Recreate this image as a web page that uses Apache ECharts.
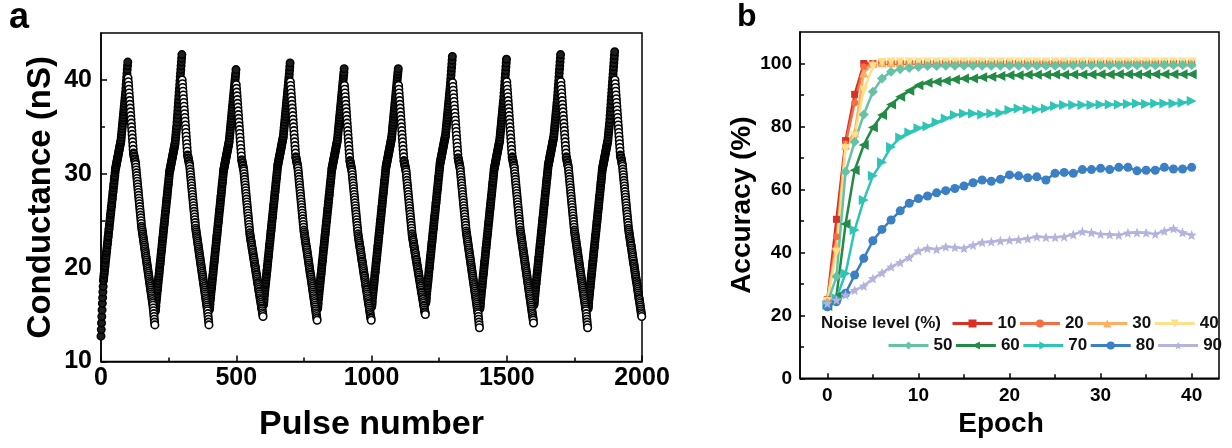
<!DOCTYPE html>
<html>
<head>
<meta charset="utf-8">
<script src="https://cdn.jsdelivr.net/npm/echarts@6.0.0/dist/echarts.min.js"></script>
<style>
html,body{margin:0;padding:0;background:#fff;}
#chart{width:1232px;height:448px;}
</style>
</head>
<body>
<div id="chart"></div>
<script>
// ---------- Panel a: conductance (nS) per pulse, one array per potentiation/depression cycle ----------
const cycle01 = [12.7,13.4,14.1,14.8,15.5,16.2,16.8,17.4,18.0,18.6,18.9,19.2,19.4,19.7,20.0,20.2,20.5,20.8,21.0,21.3,21.6,21.8,22.1,22.4,22.6,22.9,23.2,23.4,23.7,24.0,24.2,24.5,24.8,25.0,25.3,25.6,25.8,26.1,26.4,26.6,26.9,27.2,27.4,27.7,28.0,28.2,28.5,28.8,29.0,29.3,29.6,29.8,30.1,30.4,30.6,30.7,30.9,31.0,31.2,31.3,31.5,31.6,31.8,31.9,32.1,32.2,32.4,32.5,32.7,32.8,33.0,33.1,33.3,33.4,33.6,33.9,34.2,34.5,34.8,35.1,35.4,35.7,36.0,36.3,36.6,36.9,37.2,37.5,37.8,38.1,38.4,38.7,39.1,39.5,39.9,40.3,40.7,41.1,41.5,41.9,
40.2,39.8,39.4,39.0,38.6,38.2,37.8,37.4,37.0,36.6,36.2,35.8,35.4,35.0,34.6,34.2,33.8,33.4,33.0,32.6,32.2,32.1,31.9,31.8,31.6,31.5,31.3,31.2,31.0,30.7,30.4,30.1,29.8,29.5,29.2,28.9,28.6,28.3,28.0,27.7,27.4,27.1,26.8,26.5,26.2,25.9,25.6,25.3,25.0,24.7,24.4,24.2,24.0,23.8,23.6,23.4,23.2,23.0,22.8,22.6,22.4,22.2,22.0,21.8,21.6,21.4,21.2,21.0,20.8,20.6,20.4,20.2,20.0,19.8,19.6,19.4,19.2,19.0,18.8,18.6,18.4,18.2,18.0,17.8,17.6,17.4,17.2,17.0,16.8,16.6,16.4,16.2,16.0,15.7,15.4,15.1,14.8,14.5,14.2,13.9];
const cycle02 = [15.3,15.4,15.6,15.9,16.3,16.6,16.9,17.2,17.5,17.7,18.0,18.3,18.6,18.9,19.1,19.4,19.7,20.0,20.3,20.5,20.8,21.1,21.4,21.7,21.9,22.2,22.5,22.8,23.1,23.3,23.6,23.9,24.2,24.5,24.7,25.0,25.3,25.6,25.9,26.1,26.4,26.7,27.0,27.3,27.5,27.8,28.1,28.4,28.7,28.9,29.2,29.5,29.8,30.1,30.3,30.4,30.6,30.7,30.9,31.0,31.2,31.3,31.5,31.6,31.8,31.9,32.1,32.2,32.4,32.5,32.7,32.8,33.0,33.1,33.3,33.6,33.9,34.2,34.5,34.8,35.1,35.5,35.9,36.3,36.7,37.1,37.5,37.9,38.3,38.7,39.1,39.5,39.9,40.3,40.7,41.1,41.5,41.9,42.3,42.7,
40.0,39.6,39.2,38.8,38.4,38.0,37.6,37.2,36.8,36.4,36.0,35.6,35.2,34.8,34.4,34.0,33.6,33.2,32.8,32.4,32.0,31.9,31.7,31.6,31.4,31.3,31.1,31.0,30.8,30.5,30.2,29.9,29.6,29.3,29.0,28.7,28.4,28.1,27.8,27.5,27.2,26.9,26.6,26.3,26.0,25.7,25.4,25.1,24.8,24.5,24.2,24.0,23.8,23.6,23.4,23.2,23.0,22.8,22.6,22.4,22.2,22.0,21.8,21.6,21.4,21.2,21.0,20.8,20.6,20.4,20.2,20.0,19.8,19.6,19.4,19.2,19.0,18.8,18.6,18.4,18.2,18.0,17.8,17.6,17.4,17.2,17.0,16.8,16.6,16.4,16.2,16.0,15.8,15.6,15.4,15.1,14.8,14.5,14.2,13.9];
const cycle03 = [15.5,15.6,15.8,16.1,16.5,16.8,17.1,17.4,17.7,17.9,18.2,18.5,18.8,19.1,19.3,19.6,19.9,20.2,20.5,20.7,21.0,21.3,21.6,21.9,22.1,22.4,22.7,23.0,23.3,23.5,23.8,24.1,24.4,24.7,24.9,25.2,25.5,25.8,26.1,26.3,26.6,26.9,27.2,27.5,27.7,28.0,28.3,28.6,28.9,29.1,29.4,29.7,30.0,30.3,30.5,30.6,30.8,30.9,31.1,31.2,31.4,31.5,31.7,31.8,32.0,32.1,32.3,32.4,32.6,32.7,32.9,33.0,33.2,33.3,33.5,33.8,34.1,34.4,34.7,35.0,35.3,35.6,35.9,36.2,36.5,36.8,37.1,37.4,37.7,38.0,38.3,38.6,38.9,39.2,39.5,39.8,40.1,40.4,40.7,41.1,
39.5,39.1,38.7,38.3,37.9,37.5,37.1,36.7,36.3,35.9,35.5,35.1,34.7,34.3,33.9,33.5,33.1,32.7,32.3,31.9,31.5,31.4,31.2,31.1,30.9,30.8,30.6,30.5,30.3,30.0,29.7,29.4,29.1,28.8,28.5,28.2,27.9,27.6,27.3,27.0,26.7,26.4,26.1,25.8,25.5,25.2,24.9,24.6,24.3,24.0,23.7,23.5,23.3,23.1,22.9,22.8,22.6,22.4,22.2,22.0,21.9,21.7,21.5,21.3,21.1,21.0,20.8,20.6,20.4,20.2,20.1,19.9,19.7,19.5,19.3,19.2,19.0,18.8,18.6,18.4,18.3,18.1,17.9,17.7,17.5,17.4,17.2,17.0,16.8,16.6,16.5,16.3,16.1,15.9,15.7,15.6,15.4,15.2,15.0,14.8];
const cycle04 = [16.0,16.1,16.3,16.6,17.0,17.3,17.6,17.9,18.2,18.4,18.7,19.0,19.3,19.6,19.8,20.1,20.4,20.7,21.0,21.2,21.5,21.8,22.1,22.4,22.6,22.9,23.2,23.5,23.8,24.0,24.3,24.6,24.9,25.2,25.4,25.7,26.0,26.3,26.6,26.8,27.1,27.4,27.7,28.0,28.2,28.5,28.8,29.1,29.4,29.6,29.9,30.2,30.5,30.8,31.0,31.1,31.3,31.4,31.6,31.7,31.9,32.0,32.2,32.3,32.5,32.6,32.8,32.9,33.1,33.2,33.4,33.5,33.7,33.8,34.0,34.3,34.6,34.9,35.2,35.5,35.8,36.1,36.4,36.7,37.0,37.3,37.6,37.9,38.2,38.5,38.8,39.1,39.4,39.7,40.0,40.3,40.6,41.0,41.4,41.8,
39.8,39.4,39.0,38.6,38.2,37.8,37.4,37.0,36.6,36.2,35.8,35.4,35.0,34.6,34.2,33.8,33.4,33.0,32.6,32.2,31.8,31.7,31.5,31.4,31.2,31.1,30.9,30.8,30.6,30.3,30.0,29.7,29.4,29.1,28.8,28.5,28.2,27.9,27.6,27.3,27.0,26.7,26.4,26.1,25.8,25.5,25.2,24.9,24.6,24.3,24.0,23.8,23.6,23.4,23.2,23.0,22.8,22.6,22.4,22.2,22.1,21.9,21.7,21.5,21.3,21.1,20.9,20.7,20.5,20.3,20.1,19.9,19.7,19.5,19.3,19.2,19.0,18.8,18.6,18.4,18.2,18.0,17.8,17.6,17.4,17.2,17.0,16.8,16.6,16.4,16.2,16.0,15.8,15.6,15.4,15.2,15.0,14.8,14.6,14.4];
const cycle05 = [15.6,15.7,15.9,16.2,16.6,16.9,17.2,17.5,17.8,18.0,18.3,18.6,18.9,19.2,19.4,19.7,20.0,20.3,20.6,20.8,21.1,21.4,21.7,22.0,22.2,22.5,22.8,23.1,23.4,23.6,23.9,24.2,24.5,24.8,25.0,25.3,25.6,25.9,26.2,26.4,26.7,27.0,27.3,27.6,27.8,28.1,28.4,28.7,29.0,29.2,29.5,29.8,30.1,30.4,30.6,30.7,30.9,31.0,31.2,31.3,31.5,31.6,31.8,31.9,32.1,32.2,32.4,32.5,32.7,32.8,33.0,33.1,33.3,33.4,33.6,33.9,34.2,34.5,34.8,35.1,35.4,35.7,36.0,36.3,36.6,36.9,37.2,37.5,37.8,38.1,38.4,38.7,39.0,39.3,39.6,39.9,40.2,40.5,40.8,41.2,
39.4,39.0,38.6,38.2,37.8,37.4,37.0,36.6,36.2,35.8,35.4,35.0,34.6,34.2,33.8,33.4,33.0,32.6,32.2,31.8,31.4,31.3,31.1,31.0,30.8,30.7,30.5,30.4,30.2,29.9,29.6,29.3,29.0,28.7,28.4,28.1,27.8,27.5,27.2,26.9,26.6,26.3,26.0,25.7,25.4,25.1,24.8,24.5,24.2,23.9,23.6,23.4,23.2,23.0,22.8,22.6,22.4,22.2,22.1,21.9,21.7,21.5,21.3,21.1,20.9,20.7,20.6,20.4,20.2,20.0,19.8,19.6,19.4,19.2,19.1,18.9,18.7,18.5,18.3,18.1,17.9,17.7,17.6,17.4,17.2,17.0,16.8,16.6,16.4,16.2,16.1,15.9,15.7,15.5,15.3,15.1,14.9,14.7,14.6,14.4];
const cycle06 = [15.8,15.9,16.1,16.4,16.8,17.1,17.4,17.7,18.0,18.2,18.5,18.8,19.1,19.4,19.6,19.9,20.2,20.5,20.8,21.0,21.3,21.6,21.9,22.2,22.4,22.7,23.0,23.3,23.6,23.8,24.1,24.4,24.7,25.0,25.2,25.5,25.8,26.1,26.4,26.6,26.9,27.2,27.5,27.8,28.0,28.3,28.6,28.9,29.2,29.4,29.7,30.0,30.3,30.6,30.8,30.9,31.1,31.2,31.4,31.5,31.7,31.8,32.0,32.1,32.3,32.4,32.6,32.7,32.9,33.0,33.2,33.3,33.5,33.6,33.8,34.0,34.3,34.6,34.9,35.2,35.5,35.8,36.1,36.4,36.7,37.0,37.3,37.6,37.9,38.2,38.5,38.8,39.1,39.4,39.7,40.0,40.3,40.6,40.9,41.2,
39.4,39.0,38.6,38.2,37.8,37.4,37.0,36.6,36.2,35.8,35.4,35.0,34.6,34.2,33.8,33.4,33.0,32.6,32.2,31.8,31.4,31.3,31.1,31.0,30.8,30.7,30.5,30.4,30.2,29.9,29.6,29.3,29.0,28.7,28.4,28.1,27.8,27.5,27.2,26.9,26.6,26.3,26.0,25.7,25.4,25.1,24.8,24.5,24.2,23.9,23.6,23.4,23.2,23.0,22.9,22.7,22.5,22.3,22.2,22.0,21.8,21.6,21.5,21.3,21.1,20.9,20.8,20.6,20.4,20.2,20.1,19.9,19.7,19.5,19.4,19.2,19.0,18.8,18.7,18.5,18.3,18.1,18.0,17.8,17.6,17.4,17.3,17.1,16.9,16.7,16.6,16.4,16.2,16.0,15.9,15.7,15.5,15.3,15.2,15.0];
const cycle07 = [16.2,16.3,16.5,16.8,17.2,17.5,17.8,18.1,18.4,18.6,18.9,19.2,19.5,19.8,20.0,20.3,20.6,20.9,21.2,21.4,21.7,22.0,22.3,22.6,22.8,23.1,23.4,23.7,24.0,24.2,24.5,24.8,25.1,25.4,25.6,25.9,26.2,26.5,26.8,27.0,27.3,27.6,27.9,28.2,28.4,28.7,29.0,29.3,29.6,29.8,30.1,30.4,30.7,31.0,31.2,31.3,31.5,31.6,31.8,31.9,32.1,32.2,32.4,32.5,32.7,32.8,33.0,33.1,33.3,33.4,33.6,33.7,33.9,34.0,34.2,34.5,34.8,35.1,35.4,35.7,36.0,36.3,36.6,36.9,37.2,37.5,37.8,38.1,38.4,38.7,39.0,39.3,39.7,40.1,40.5,40.9,41.3,41.7,42.1,42.5,
39.7,39.3,38.9,38.5,38.1,37.7,37.3,36.9,36.5,36.1,35.7,35.3,34.9,34.5,34.1,33.7,33.3,32.9,32.5,32.1,31.7,31.6,31.4,31.3,31.1,31.0,30.8,30.7,30.5,30.2,29.9,29.6,29.3,29.0,28.7,28.4,28.1,27.8,27.5,27.2,26.9,26.6,26.3,26.0,25.7,25.4,25.1,24.8,24.5,24.2,23.9,23.7,23.5,23.3,23.1,22.9,22.7,22.5,22.3,22.1,21.9,21.7,21.5,21.3,21.1,20.9,20.7,20.5,20.3,20.1,19.9,19.7,19.5,19.3,19.1,18.9,18.7,18.5,18.3,18.1,17.9,17.7,17.5,17.3,17.1,16.9,16.7,16.5,16.3,16.1,15.9,15.7,15.5,15.3,15.1,14.8,14.5,14.2,13.9,13.6];
const cycle08 = [15.6,15.7,15.9,16.2,16.6,16.9,17.2,17.5,17.8,18.0,18.3,18.6,18.9,19.2,19.4,19.7,20.0,20.3,20.6,20.8,21.1,21.4,21.7,22.0,22.2,22.5,22.8,23.1,23.4,23.6,23.9,24.2,24.5,24.8,25.0,25.3,25.6,25.9,26.2,26.4,26.7,27.0,27.3,27.6,27.8,28.1,28.4,28.7,29.0,29.2,29.5,29.8,30.1,30.4,30.6,30.7,30.9,31.0,31.2,31.3,31.5,31.6,31.8,31.9,32.1,32.2,32.4,32.5,32.7,32.8,33.0,33.1,33.3,33.4,33.6,33.9,34.2,34.5,34.8,35.1,35.4,35.7,36.0,36.3,36.6,36.9,37.2,37.5,37.8,38.2,38.6,39.0,39.4,39.8,40.2,40.6,41.0,41.4,41.8,42.2,
39.8,39.4,39.0,38.6,38.2,37.8,37.4,37.0,36.6,36.2,35.8,35.4,35.0,34.6,34.2,33.8,33.4,33.0,32.6,32.2,31.8,31.7,31.5,31.4,31.2,31.1,30.9,30.8,30.6,30.3,30.0,29.7,29.4,29.1,28.8,28.5,28.2,27.9,27.6,27.3,27.0,26.7,26.4,26.1,25.8,25.5,25.2,24.9,24.6,24.3,24.0,23.8,23.6,23.4,23.2,23.0,22.8,22.6,22.4,22.2,22.0,21.8,21.6,21.4,21.2,21.0,20.8,20.6,20.4,20.2,20.0,19.8,19.6,19.4,19.2,19.0,18.8,18.6,18.4,18.2,18.0,17.8,17.6,17.4,17.2,17.0,16.8,16.6,16.4,16.2,16.0,15.8,15.6,15.4,15.2,15.0,14.8,14.6,14.4,14.1];
const cycle09 = [16.0,16.1,16.3,16.6,17.0,17.3,17.6,17.9,18.2,18.4,18.7,19.0,19.3,19.6,19.8,20.1,20.4,20.7,21.0,21.2,21.5,21.8,22.1,22.4,22.6,22.9,23.2,23.5,23.8,24.0,24.3,24.6,24.9,25.2,25.4,25.7,26.0,26.3,26.6,26.8,27.1,27.4,27.7,28.0,28.2,28.5,28.8,29.1,29.4,29.6,29.9,30.2,30.5,30.8,31.0,31.1,31.3,31.4,31.6,31.7,31.9,32.0,32.2,32.3,32.5,32.6,32.8,32.9,33.1,33.2,33.4,33.5,33.7,33.8,34.0,34.3,34.6,34.9,35.2,35.5,35.8,36.1,36.4,36.7,37.0,37.3,37.6,37.9,38.3,38.7,39.1,39.5,39.9,40.3,40.7,41.1,41.5,41.9,42.3,42.7,
39.8,39.4,39.0,38.6,38.2,37.8,37.4,37.0,36.6,36.2,35.8,35.4,35.0,34.6,34.2,33.8,33.4,33.0,32.6,32.2,31.8,31.7,31.5,31.4,31.2,31.1,30.9,30.8,30.6,30.3,30.0,29.7,29.4,29.1,28.8,28.5,28.2,27.9,27.6,27.3,27.0,26.7,26.4,26.1,25.8,25.5,25.2,24.9,24.6,24.3,24.0,23.8,23.6,23.4,23.2,23.0,22.8,22.6,22.4,22.2,22.0,21.8,21.6,21.4,21.2,21.0,20.8,20.6,20.4,20.2,20.0,19.8,19.6,19.4,19.2,19.0,18.8,18.6,18.4,18.2,18.0,17.8,17.6,17.4,17.2,17.0,16.8,16.6,16.4,16.2,16.0,15.8,15.6,15.4,15.1,14.8,14.5,14.2,13.9,13.6];
const cycle10 = [15.6,15.7,15.9,16.2,16.6,16.9,17.2,17.5,17.8,18.0,18.3,18.6,18.9,19.2,19.4,19.7,20.0,20.3,20.6,20.8,21.1,21.4,21.7,22.0,22.2,22.5,22.8,23.1,23.4,23.6,23.9,24.2,24.5,24.8,25.0,25.3,25.6,25.9,26.2,26.4,26.7,27.0,27.3,27.6,27.8,28.1,28.4,28.7,29.0,29.2,29.5,29.8,30.1,30.4,30.6,30.7,30.9,31.0,31.2,31.3,31.5,31.6,31.8,31.9,32.1,32.2,32.4,32.5,32.7,32.8,33.0,33.1,33.3,33.4,33.6,33.9,34.2,34.5,34.8,35.1,35.4,35.8,36.2,36.6,37.0,37.4,37.8,38.2,38.6,39.0,39.4,39.8,40.2,40.6,41.0,41.4,41.8,42.2,42.6,43.0,
40.0,39.6,39.2,38.8,38.4,38.0,37.6,37.2,36.8,36.4,36.0,35.6,35.2,34.8,34.4,34.0,33.6,33.2,32.8,32.4,32.0,31.9,31.7,31.6,31.4,31.3,31.1,31.0,30.8,30.5,30.2,29.9,29.6,29.3,29.0,28.7,28.4,28.1,27.8,27.5,27.2,26.9,26.6,26.3,26.0,25.7,25.4,25.1,24.8,24.5,24.2,24.0,23.8,23.6,23.4,23.2,23.0,22.8,22.6,22.4,22.3,22.1,21.9,21.7,21.5,21.3,21.1,20.9,20.7,20.5,20.4,20.2,20.0,19.8,19.6,19.4,19.2,19.0,18.8,18.6,18.5,18.3,18.1,17.9,17.7,17.5,17.3,17.1,16.9,16.7,16.6,16.4,16.2,16.0,15.8,15.6,15.4,15.2,15.0,14.8];
const conductanceCycles = [cycle01, cycle02, cycle03, cycle04, cycle05, cycle06, cycle07, cycle08, cycle09, cycle10];
const pulsesPerBranch = 100;

const pulseTicks = [0, 500, 1000, 1500, 2000];
const pulseMinorTicks = [250, 750, 1250, 1750];
const conductanceTicks = [10, 20, 30, 40];
const conductanceMinorTicks = [15, 25, 35];

// ---------- Panel b: accuracy (%) per epoch for each noise level ----------
const epochs = [0,1,2,3,4,5,6,7,8,9,10,11,12,13,14,15,16,17,18,19,20,21,22,23,24,25,26,27,28,29,30,31,32,33,34,35,36,37,38,39,40];
const noiseLevels = ['10','20','30','40','50','60','70','80','90'];
const acc10 = [25.0,50.5,75.5,90.2,100.0,100.0,100.0,100.0,100.0,100.0,100.0,100.0,100.0,100.0,100.0,100.0,100.0,100.0,100.0,100.0,100.0,100.0,100.0,100.0,100.0,100.0,100.0,100.0,100.0,100.0,100.0,100.0,100.0,100.0,100.0,100.0,100.0,100.0,100.0,100.0,100.0];
const acc20 = [24.5,45.0,74.5,87.5,99.0,100.0,100.0,100.0,100.0,100.0,100.0,100.0,100.0,100.0,100.0,100.0,100.0,100.0,100.0,100.0,100.0,100.0,100.0,100.0,100.0,100.0,100.0,100.0,100.0,100.0,100.0,100.0,100.0,100.0,100.0,100.0,100.0,100.0,100.0,100.0,100.0];
const acc30 = [25.0,42.0,74.0,78.0,97.0,100.0,100.2,100.2,100.2,100.2,100.2,100.2,100.2,100.2,100.2,100.2,100.2,100.2,100.2,100.2,100.2,100.2,100.2,100.2,100.2,100.2,100.2,100.2,100.2,100.2,100.2,100.2,100.2,100.2,100.2,100.2,100.2,100.2,100.2,100.2,100.2];
const acc40 = [24.5,40.0,73.0,77.0,91.5,99.0,100.3,100.5,100.5,100.5,100.5,100.5,100.5,100.5,100.5,100.5,100.5,100.5,100.5,100.5,100.5,100.5,100.5,100.5,100.5,100.5,100.5,100.5,100.5,100.5,100.5,100.5,100.5,100.5,100.5,100.5,100.5,100.5,100.5,100.5,100.5];
const acc50 = [23.8,32.3,65.6,75.1,83.8,91.0,95.2,97.4,98.2,98.6,98.9,99.2,99.2,99.3,99.3,99.3,99.3,99.3,99.3,99.3,99.3,99.3,99.3,99.3,99.3,99.3,99.3,99.4,99.4,99.4,99.4,99.4,99.4,99.4,99.4,99.4,99.4,99.5,99.5,99.5,99.5];
const acc60 = [23.0,26.0,49.0,66.1,74.1,79.7,83.6,87.0,89.4,91.3,93.1,93.9,94.2,94.5,94.9,95.2,95.2,95.6,95.8,96.0,96.3,96.3,96.4,96.4,96.4,96.5,96.4,96.5,96.5,96.5,96.6,96.5,96.6,96.6,96.5,96.6,96.6,96.6,96.6,96.6,96.6];
const acc70 = [23.3,25.4,33.3,47.1,56.6,64.3,68.6,73.5,76.5,78.1,79.4,80.1,81.3,82.5,83.6,84.1,84.1,83.8,84.1,84.3,85.2,85.7,85.5,85.4,85.7,86.5,86.8,86.8,86.8,86.8,87.0,87.0,87.0,87.1,87.3,87.1,87.3,87.3,87.3,87.5,88.1];
const acc80 = [22.7,24.3,27.0,32.8,38.1,43.7,47.3,50.3,53.2,55.6,57.1,57.9,58.9,59.6,60.3,61.1,62.1,63.0,62.6,63.2,64.6,64.3,63.7,64.0,63.0,65.1,65.4,65.1,66.3,66.3,66.7,66.3,67.0,67.0,65.9,66.1,66.1,67.0,66.5,66.5,67.0];
const acc90 = [23.8,24.9,26.5,28.0,29.3,31.7,33.5,35.4,36.8,38.4,40.5,41.3,41.0,41.8,41.6,41.3,42.3,43.2,43.4,43.7,43.9,44.1,44.4,45.0,44.8,44.8,45.0,45.7,46.6,46.3,45.8,45.7,45.5,46.2,46.3,46.2,45.8,46.8,47.6,46.3,45.5];
const accuracySeries = [acc10, acc20, acc30, acc40, acc50, acc60, acc70, acc80, acc90];

const epochTicks = [0, 10, 20, 30, 40];
const epochMinorTicks = [5, 15, 25, 35];
const accuracyTicks = [0, 20, 40, 60, 80, 100];
const accuracyMinorTicks = [10, 30, 50, 70, 90];

// ---------- styles ----------
const FONT = '"Liberation Sans", Arial, Helvetica, sans-serif';
const STAR = 'path://M0,-10L2.6,-3.6L9.5,-3.1L4.2,1.4L5.9,8.1L0,4.4L-5.9,8.1L-4.2,1.4L-9.5,-3.1L-2.6,-3.6Z';
const seriesStyle = [
  {color:'#d73027', symbol:'rect', size:7, rotate:0},
  {color:'#f46d43', symbol:'circle', size:7, rotate:0},
  {color:'#fdae61', symbol:'triangle', size:9, rotate:0},
  {color:'#fee08b', symbol:'triangle', size:9, rotate:180},
  {color:'#66c2a5', symbol:'diamond', size:10, rotate:0},
  {color:'#238b45', symbol:'triangle', size:10, rotate:90},
  {color:'#2ec4b6', symbol:'triangle', size:10, rotate:-90},
  {color:'#3b7fc4', symbol:'circle', size:9, rotate:0},
  {color:'#b3b3dd', symbol:STAR, size:10, rotate:0}
];

// build panel a points through pulse index
const riseData = [], fallData = [];
conductanceCycles.forEach((cyc, ci) => {
  cyc.forEach((v, k) => {
    const pulse = ci * cyc.length + k;
    (k < pulsesPerBranch ? riseData : fallData).push([pulse, v]);
  });
});

const plain = v => String(v);

function valueAxis(grid, min, max, ticks, labelSize, extra) {
  return Object.assign({
    gridIndex: grid, type: 'value', min: min, max: max,
    axisLine: {show: true, onZero: false, lineStyle: {color: '#000', width: 1.5}},
    axisTick: {show: true, inside: true, length: 6, customValues: ticks, lineStyle: {color: '#000', width: 1.5}},
    axisLabel: {show: true, customValues: ticks, formatter: plain, fontFamily: FONT, fontWeight: 'bold', fontSize: labelSize, color: '#000'},
    splitLine: {show: false}
  }, extra || {});
}
function minorAxis(grid, min, max, minor, pos) {
  return {
    gridIndex: grid, type: 'value', min: min, max: max, position: pos,
    axisLine: {show: false, onZero: false},
    axisTick: {show: true, inside: true, length: 4, customValues: minor, lineStyle: {color: '#000', width: 1.5}},
    axisLabel: {show: false}, splitLine: {show: false}
  };
}

const chart = echarts.init(document.getElementById('chart'), null, {renderer: 'canvas'});

const xAxes = [
  valueAxis(0, 0, 2000, pulseTicks, 25, {
    position: 'bottom',
    axisLabel: {customValues: pulseTicks, formatter: plain, fontFamily: FONT, fontWeight: 'bold', fontSize: 25, color: '#000', margin: 4},
    name: 'Pulse number', nameLocation: 'middle', nameGap: 46,
    nameTextStyle: {fontFamily: FONT, fontWeight: 'bold', fontSize: 34, color: '#000'}
  }),
  minorAxis(0, 0, 2000, pulseMinorTicks, 'bottom'),
  valueAxis(1, -3, 43, epochTicks, 19, {
    position: 'bottom',
    axisTick: {show: true, inside: true, length: 5, customValues: epochTicks, lineStyle: {color: '#000', width: 1.5}},
    axisLabel: {customValues: epochTicks, formatter: plain, fontFamily: FONT, fontWeight: 'bold', fontSize: 19, color: '#000', margin: 8},
    name: 'Epoch', nameLocation: 'middle', nameGap: 29,
    nameTextStyle: {fontFamily: FONT, fontWeight: 'bold', fontSize: 28, color: '#000', padding: [0, 17, 0, 0]}
  }),
  minorAxis(1, -3, 43, epochMinorTicks, 'bottom')
];
const yAxes = [
  valueAxis(0, 10, 45, conductanceTicks, 25, {
    position: 'left',
    axisLabel: {customValues: conductanceTicks, formatter: plain, fontFamily: FONT, fontWeight: 'bold', fontSize: 25, color: '#000', margin: 9},
    name: 'Conductance (nS)', nameLocation: 'middle', nameGap: 44,
    nameTextStyle: {fontFamily: FONT, fontWeight: 'bold', fontSize: 33, color: '#000'}
  }),
  minorAxis(0, 10, 45, conductanceMinorTicks, 'left'),
  valueAxis(1, 0, 110, accuracyTicks, 19, {
    position: 'left',
    axisTick: {show: true, inside: true, length: 5, customValues: accuracyTicks, lineStyle: {color: '#000', width: 1.5}},
    axisLabel: {customValues: accuracyTicks, formatter: plain, fontFamily: FONT, fontWeight: 'bold', fontSize: 19, color: '#000', margin: 8},
    name: 'Accuracy (%)', nameLocation: 'middle', nameGap: 44,
    nameTextStyle: {fontFamily: FONT, fontWeight: 'bold', fontSize: 28, color: '#000'}
  }),
  minorAxis(1, 0, 110, accuracyMinorTicks, 'left')
];

const series = [
  {
    type: 'scatter', name: 'potentiation', xAxisIndex: 0, yAxisIndex: 0, data: riseData,
    symbol: 'circle', symbolSize: 7.5, silent: true,
    itemStyle: {color: '#1e1e1e', borderColor: '#000', borderWidth: 1.5, opacity: 1},
    emphasis: {disabled: true}
  },
  {
    type: 'scatter', name: 'depression', xAxisIndex: 0, yAxisIndex: 0, data: fallData,
    symbol: 'circle', symbolSize: 7.5, silent: true,
    itemStyle: {color: '#ffffff', borderColor: '#000', borderWidth: 1.6, opacity: 1},
    emphasis: {disabled: true}
  }
];
accuracySeries.forEach((arr, i) => {
  const st = seriesStyle[i];
  series.push({
    type: 'line', name: noiseLevels[i], xAxisIndex: 2, yAxisIndex: 2,
    data: epochs.map((e, j) => [e, arr[j]]),
    symbol: st.symbol, symbolSize: st.size, symbolRotate: st.rotate, showAllSymbol: true,
    lineStyle: {color: st.color, width: 2.5},
    itemStyle: {color: st.color},
    emphasis: {disabled: true}, silent: true
  });
});

const graphics = [
  {type: 'text', left: 9, top: 0, style: {text: 'a', font: 'bold 36px ' + FONT, fill: '#000'}},
  {type: 'text', left: 737, top: 1, style: {text: 'b', font: 'bold 32px ' + FONT, fill: '#000'}},
  {type: 'text', left: 821, top: 315, style: {text: 'Noise level (%)', font: 'bold 17px ' + FONT, fill: '#111'}}
];

const legendCommon = {
  orient: 'horizontal', padding: 0, itemWidth: 40, itemHeight: 10, itemGap: 2,
  textStyle: {fontFamily: FONT, fontWeight: 'bold', fontSize: 17, color: '#111'},
  lineStyle: {width: 3}, selectedMode: false
};

chart.setOption({
  animation: false,
  backgroundColor: '#fff',
  textStyle: {fontFamily: FONT},
  grid: [
    {left: 101, top: 33, width: 541, height: 328.5, show: true, borderColor: '#000', borderWidth: 1.5, containLabel: false},
    {left: 800, top: 32, width: 419, height: 346.3, show: true, borderColor: '#000', borderWidth: 1.5, containLabel: false}
  ],
  xAxis: xAxes,
  yAxis: yAxes,
  legend: [
    Object.assign({}, legendCommon, {data: noiseLevels.slice(0, 4), left: 951, top: 315}),
    Object.assign({}, legendCommon, {data: noiseLevels.slice(4), left: 887, top: 337})
  ],
  graphic: graphics,
  series: series
});
</script>
</body>
</html>
